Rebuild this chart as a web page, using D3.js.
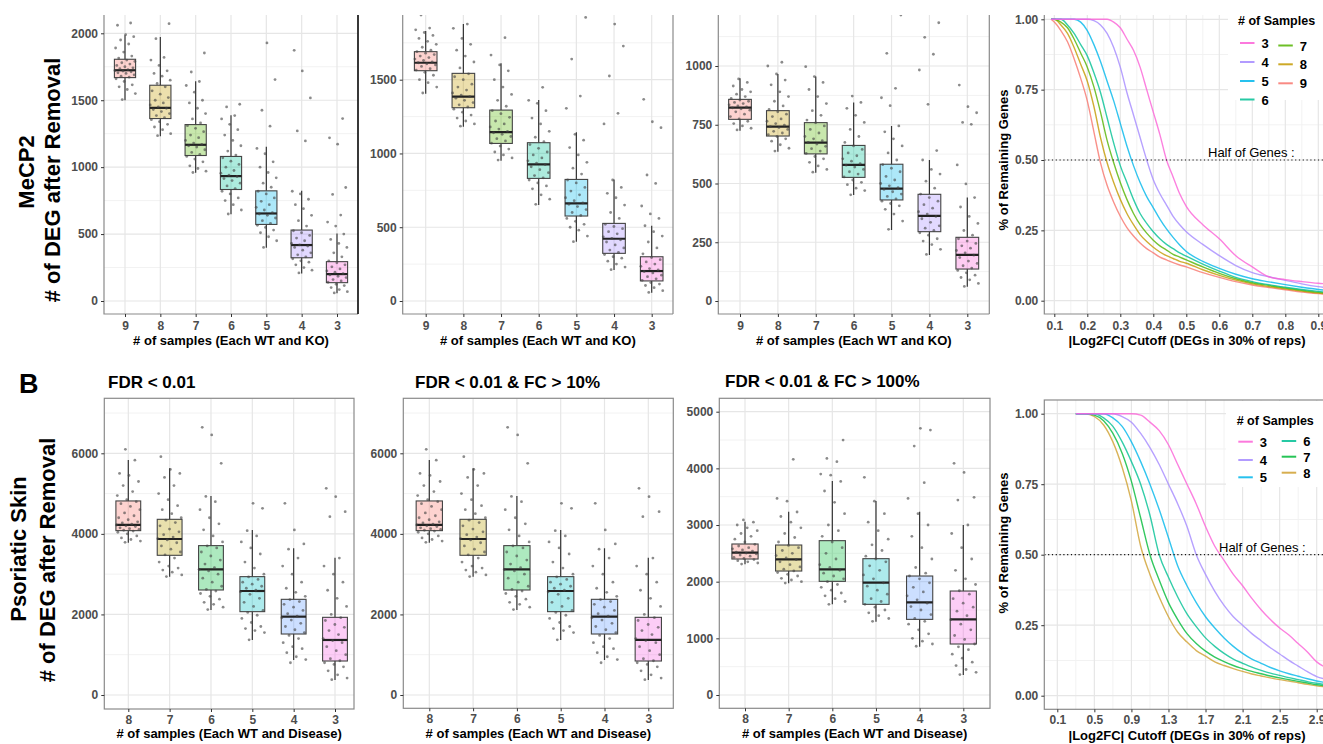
<!DOCTYPE html>
<html>
<head>
<meta charset="utf-8">
<script src="https://cdn.jsdelivr.net/npm/d3@7"></script>
<style>
  body { margin: 0; background: #fff; }
  svg { font-family: "Liberation Sans", Arial, sans-serif; }
</style>
</head>
<body>
<div id="chart"></div>
<script>
// DATA

var topCats = ["9", "8", "7", "6", "5", "4", "3"];
var bottomCats = ["8", "7", "6", "5", "4", "3"];

var topFills = ["#F8766D", "#C49A00", "#53B400", "#00C094", "#00B6EB", "#A58AFF", "#FB61D7"];
var bottomFills = ["#F8766D", "#B79F00", "#00BA38", "#00BFC4", "#619CFF", "#F564E3"];

// box stats: [lower whisker, q1, median, q3, upper whisker]
var t1Stats = [
  [1500, 1669, 1724, 1806, 1985],
  [1231, 1363, 1443, 1612, 1973],
  [958, 1087, 1167, 1318, 1642],
  [649, 833, 933, 1080, 1388],
  [398, 572, 654, 823, 1152],
  [206, 323, 418, 530, 823],
  [57, 137, 201, 294, 505]
];
var t1Points = [
  [1505, 1550, 1580, 1600, 1615, 1640, 1660, 1672, 1680, 1690, 1700, 1705, 1712, 1718, 1722, 1728, 1735, 1742, 1750, 1760, 1770, 1780, 1790, 1800, 1815, 1830, 1860, 1890, 1920, 1950, 1975, 1990, 2060, 2077],
  [1235, 1250, 1280, 1300, 1320, 1340, 1355, 1370, 1385, 1400, 1415, 1430, 1440, 1450, 1465, 1480, 1500, 1520, 1545, 1570, 1600, 1625, 1650, 1680, 1700, 1720, 1760, 1800, 1820, 1960, 2072],
  [960, 970, 990, 1010, 1040, 1060, 1080, 1095, 1110, 1130, 1150, 1160, 1170, 1180, 1200, 1220, 1240, 1265, 1290, 1310, 1330, 1360, 1400, 1440, 1480, 1500, 1560, 1610, 1640, 1711, 1853],
  [650, 680, 720, 750, 770, 800, 820, 840, 860, 880, 900, 915, 930, 940, 955, 975, 1000, 1020, 1045, 1070, 1090, 1120, 1160, 1200, 1240, 1280, 1320, 1360, 1385, 1450, 1470],
  [400, 450, 480, 510, 530, 550, 565, 580, 600, 620, 640, 650, 660, 680, 700, 720, 745, 770, 800, 820, 850, 880, 920, 960, 1000, 1040, 1100, 1140, 1306, 1425, 1654, 1928],
  [210, 230, 250, 270, 290, 300, 315, 330, 345, 360, 380, 400, 410, 420, 430, 450, 470, 490, 510, 525, 560, 600, 640, 690, 720, 760, 800, 820, 1196, 1271, 1517, 1719, 1873],
  [60, 70, 85, 100, 115, 125, 140, 150, 160, 175, 185, 195, 205, 215, 225, 240, 255, 270, 285, 300, 330, 360, 400, 430, 460, 500, 560, 590, 642, 796, 848, 1172, 1219, 1363]
];

var t2Stats = [
  [1405, 1561, 1615, 1690, 1830],
  [1181, 1310, 1385, 1543, 1877],
  [951, 1068, 1145, 1294, 1611],
  [651, 831, 926, 1073, 1362],
  [402, 576, 662, 824, 1143],
  [210, 323, 422, 526, 824],
  [56, 136, 203, 300, 510]
];
var t2Points = [
  [1410, 1450, 1480, 1500, 1530, 1550, 1565, 1575, 1590, 1600, 1608, 1615, 1620, 1630, 1640, 1650, 1660, 1670, 1680, 1690, 1700, 1720, 1740, 1760, 1780, 1800, 1820, 1838, 1850, 1938],
  [1185, 1200, 1220, 1240, 1260, 1280, 1300, 1315, 1330, 1345, 1360, 1375, 1385, 1395, 1410, 1430, 1450, 1470, 1500, 1520, 1540, 1580, 1620, 1660, 1700, 1740, 1780, 1848, 1877],
  [955, 970, 990, 1010, 1030, 1050, 1070, 1085, 1100, 1115, 1130, 1140, 1150, 1165, 1180, 1200, 1220, 1245, 1270, 1290, 1320, 1360, 1400, 1450, 1500, 1560, 1600, 1667, 1785],
  [655, 690, 720, 760, 780, 800, 820, 835, 850, 870, 890, 910, 925, 935, 950, 970, 990, 1010, 1035, 1060, 1080, 1110, 1150, 1200, 1240, 1290, 1340, 1360, 1448],
  [402, 440, 480, 500, 520, 540, 560, 580, 600, 620, 640, 655, 665, 680, 700, 720, 745, 770, 800, 820, 860, 900, 940, 990, 1040, 1090, 1130, 1306, 1389, 1640, 1922],
  [212, 230, 250, 270, 290, 300, 315, 330, 345, 360, 380, 400, 415, 425, 435, 455, 470, 490, 505, 520, 560, 600, 650, 700, 730, 770, 820, 1200, 1272, 1525, 1728, 1877],
  [58, 70, 90, 105, 115, 125, 140, 150, 165, 175, 190, 200, 210, 220, 235, 250, 265, 280, 295, 320, 360, 400, 440, 470, 510, 560, 590, 644, 797, 854, 1175, 1215, 1367]
];

var t3Stats = [
  [725, 773, 823, 858, 948],
  [635, 702, 742, 810, 966],
  [546, 626, 674, 759, 955],
  [451, 526, 579, 662, 845],
  [302, 430, 478, 582, 745],
  [196, 295, 362, 454, 600],
  [61, 136, 196, 271, 440]
];
var t3Points = [
  [728, 735, 745, 755, 765, 775, 785, 795, 805, 812, 818, 822, 826, 830, 835, 840, 845, 850, 855, 862, 870, 880, 890, 900, 915, 930, 945],
  [638, 650, 665, 680, 690, 700, 708, 715, 722, 730, 738, 742, 748, 755, 765, 775, 785, 795, 805, 815, 830, 850, 870, 890, 920, 940, 966, 1000, 1016],
  [548, 560, 575, 590, 605, 615, 628, 638, 648, 658, 668, 675, 682, 690, 700, 715, 730, 745, 758, 770, 790, 810, 840, 870, 900, 930, 955, 997],
  [452, 470, 480, 495, 505, 515, 528, 540, 550, 560, 570, 578, 585, 595, 605, 618, 630, 645, 660, 675, 700, 730, 760, 790, 820, 845, 872],
  [305, 340, 370, 390, 405, 415, 425, 435, 445, 455, 465, 475, 482, 490, 500, 515, 530, 550, 565, 580, 600, 630, 660, 690, 720, 745, 831, 865, 905, 1054, 1217],
  [198, 220, 240, 255, 265, 280, 290, 300, 310, 320, 335, 350, 360, 370, 380, 395, 410, 425, 440, 455, 480, 510, 540, 560, 600, 640, 837, 983, 1050, 1122, 1184],
  [62, 75, 90, 100, 110, 120, 130, 140, 150, 160, 170, 185, 195, 205, 215, 225, 235, 245, 255, 265, 280, 300, 330, 360, 400, 440, 498, 579, 752, 760, 801, 827, 919]
];

// FDR < 0.01 (the FC > 10% panel reads the same)
var b1Stats = [
  [3782, 4080, 4221, 4817, 5835],
  [2938, 3468, 3873, 4361, 5628],
  [2110, 2607, 3120, 3708, 4941],
  [1366, 2069, 2582, 2938, 4097],
  [869, 1514, 1945, 2375, 3641],
  [372, 844, 1366, 1928, 3410]
];
var b1Points = [
  [3790, 3820, 3860, 3900, 3950, 4000, 4040, 4070, 4090, 4110, 4130, 4150, 4180, 4200, 4220, 4240, 4270, 4300, 4350, 4400, 4450, 4520, 4600, 4680, 4750, 4800, 4850, 4950, 5050, 5200, 5300, 5450, 5500, 5830, 6099],
  [2940, 2980, 3050, 3100, 3150, 3200, 3300, 3400, 3480, 3550, 3620, 3700, 3780, 3850, 3880, 3920, 3980, 4050, 4120, 4200, 4280, 4340, 4400, 4500, 4600, 4700, 4850, 5000, 5200, 5400, 5500, 5600, 5917],
  [2120, 2180, 2250, 2300, 2380, 2450, 2520, 2580, 2620, 2700, 2800, 2900, 3000, 3080, 3120, 3160, 3250, 3350, 3450, 3550, 3650, 3700, 3800, 3950, 4100, 4250, 4400, 4600, 4800, 4930, 5752, 6455, 6646],
  [1370, 1550, 1600, 1650, 1700, 1800, 1900, 1980, 2050, 2100, 2200, 2300, 2400, 2500, 2560, 2600, 2650, 2700, 2750, 2800, 2870, 2930, 3000, 3150, 3300, 3500, 3650, 3800, 3950, 4080, 4635, 4759],
  [800, 880, 950, 1050, 1150, 1200, 1300, 1400, 1480, 1550, 1620, 1700, 1780, 1860, 1920, 1960, 2020, 2100, 2180, 2250, 2320, 2370, 2450, 2550, 2650, 2800, 3000, 3200, 3400, 3620, 3750, 4097, 4759],
  [380, 420, 500, 600, 700, 760, 800, 850, 900, 1000, 1100, 1200, 1300, 1350, 1400, 1500, 1600, 1680, 1750, 1850, 1920, 2000, 2200, 2400, 2600, 2800, 3000, 3200, 3400, 4428, 4552, 4924, 5131]
];

var b3Stats = [
  [2306, 2400, 2512, 2665, 3059],
  [1971, 2188, 2394, 2647, 3235],
  [1600, 2006, 2218, 2724, 3776],
  [1294, 1600, 1982, 2406, 3424],
  [853, 1335, 1635, 2100, 3235],
  [353, 900, 1335, 1835, 3000]
];
var b3Points = [
  [2310, 2330, 2350, 2370, 2390, 2410, 2430, 2450, 2470, 2490, 2505, 2520, 2540, 2560, 2580, 2600, 2630, 2660, 2700, 2750, 2800, 2850, 2900, 2950, 3000, 3050, 3090],
  [1975, 2000, 2030, 2060, 2100, 2130, 2160, 2190, 2220, 2260, 2300, 2350, 2390, 2420, 2460, 2500, 2550, 2600, 2640, 2700, 2780, 2850, 2950, 3050, 3150, 3230, 3420, 3470, 4159],
  [1600, 1650, 1700, 1750, 1800, 1850, 1900, 1950, 2000, 2050, 2100, 2150, 2200, 2250, 2300, 2400, 2500, 2600, 2700, 2800, 2900, 3000, 3200, 3400, 3600, 3770, 3880, 3900, 4118, 4176, 4500],
  [1300, 1350, 1400, 1450, 1500, 1550, 1600, 1650, 1700, 1780, 1850, 1920, 1980, 2050, 2120, 2200, 2280, 2350, 2400, 2450, 2550, 2650, 2750, 2900, 3050, 3200, 3420, 3841],
  [860, 900, 950, 1000, 1080, 1150, 1250, 1300, 1350, 1420, 1500, 1560, 1620, 1680, 1750, 1820, 1900, 1980, 2050, 2100, 2150, 2250, 2400, 2600, 2800, 3000, 3200, 3470, 3747, 4394, 4676, 4706],
  [360, 400, 450, 520, 580, 650, 720, 800, 850, 900, 980, 1050, 1150, 1250, 1330, 1400, 1480, 1550, 1620, 1700, 1780, 1840, 1950, 2050, 2200, 2400, 2600, 2850, 3000, 3441, 3488, 3929, 4088]
];

// remaining-gene curves
var topCurveX = [0.09, 0.1, 0.12, 0.14, 0.16, 0.18, 0.2, 0.22, 0.24, 0.26, 0.28, 0.3, 0.32, 0.34, 0.36, 0.38, 0.4, 0.42, 0.44, 0.46, 0.48, 0.5, 0.55, 0.6, 0.65, 0.7, 0.75, 0.8, 0.85, 0.9, 0.95, 1.0];
var top3 = [1, 1, 1, 1, 1, 1, 1, 1, 1, 1, 0.99, 0.97, 0.93, 0.89, 0.83, 0.75, 0.67, 0.59, 0.5, 0.44, 0.38, 0.335, 0.27, 0.22, 0.16, 0.12, 0.085, 0.075, 0.068, 0.062, 0.058, 0.052];
var top4 = [1, 1, 1, 1, 1, 1, 1, 0.995, 0.98, 0.95, 0.9, 0.83, 0.74, 0.66, 0.58, 0.5, 0.43, 0.38, 0.34, 0.3, 0.27, 0.245, 0.2, 0.16, 0.125, 0.1, 0.085, 0.072, 0.06, 0.05, 0.043, 0.037];
var top5 = [1, 1, 1, 1, 1, 0.99, 0.96, 0.91, 0.85, 0.78, 0.71, 0.63, 0.55, 0.48, 0.42, 0.37, 0.33, 0.29, 0.255, 0.225, 0.198, 0.175, 0.14, 0.115, 0.094, 0.078, 0.067, 0.057, 0.048, 0.04, 0.034, 0.028];
var top6 = [1, 1, 1, 0.98, 0.95, 0.91, 0.87, 0.81, 0.74, 0.65, 0.56, 0.48, 0.42, 0.36, 0.31, 0.275, 0.245, 0.22, 0.2, 0.185, 0.17, 0.158, 0.13, 0.105, 0.083, 0.068, 0.057, 0.048, 0.04, 0.033, 0.027, 0.022];
var top7 = [1, 1, 0.99, 0.97, 0.93, 0.88, 0.83, 0.76, 0.67, 0.57, 0.49, 0.42, 0.36, 0.31, 0.27, 0.24, 0.215, 0.195, 0.18, 0.165, 0.155, 0.145, 0.12, 0.097, 0.078, 0.064, 0.054, 0.045, 0.037, 0.03, 0.025, 0.02];
var top8 = [1, 1, 0.98, 0.95, 0.9, 0.84, 0.78, 0.69, 0.58, 0.49, 0.42, 0.36, 0.31, 0.27, 0.235, 0.21, 0.19, 0.173, 0.16, 0.15, 0.14, 0.133, 0.11, 0.09, 0.073, 0.06, 0.05, 0.042, 0.034, 0.027, 0.022, 0.018];
var top9 = [1, 0.99, 0.96, 0.92, 0.86, 0.79, 0.71, 0.6, 0.49, 0.41, 0.35, 0.3, 0.26, 0.23, 0.205, 0.185, 0.17, 0.155, 0.145, 0.135, 0.127, 0.12, 0.1, 0.083, 0.068, 0.056, 0.047, 0.039, 0.031, 0.025, 0.02, 0.016];

var botCurveX = [0.3, 0.4, 0.5, 0.6, 0.7, 0.8, 0.9, 1.0, 1.1, 1.2, 1.3, 1.4, 1.5, 1.6, 1.7, 1.8, 1.9, 2.0, 2.1, 2.2, 2.3, 2.4, 2.5, 2.6, 2.7, 2.8, 2.9, 3.0, 3.1];
var bot3 = [1, 1, 1, 1, 1, 1, 1, 0.995, 0.97, 0.94, 0.89, 0.82, 0.75, 0.68, 0.6, 0.53, 0.48, 0.43, 0.39, 0.345, 0.305, 0.27, 0.24, 0.215, 0.185, 0.155, 0.12, 0.1, 0.09];
var bot4 = [1, 1, 1, 1, 1, 0.99, 0.97, 0.93, 0.88, 0.82, 0.75, 0.68, 0.6, 0.5, 0.43, 0.37, 0.32, 0.28, 0.25, 0.22, 0.195, 0.17, 0.148, 0.125, 0.105, 0.085, 0.068, 0.058, 0.05];
var bot5 = [1, 1, 1, 1, 0.985, 0.955, 0.9, 0.83, 0.75, 0.66, 0.56, 0.46, 0.39, 0.33, 0.28, 0.24, 0.205, 0.175, 0.15, 0.13, 0.115, 0.1, 0.088, 0.078, 0.069, 0.06, 0.052, 0.046, 0.04];
var bot6 = [1, 1, 1, 0.985, 0.955, 0.9, 0.83, 0.75, 0.64, 0.5, 0.42, 0.35, 0.29, 0.245, 0.205, 0.175, 0.15, 0.13, 0.115, 0.101, 0.09, 0.08, 0.072, 0.064, 0.057, 0.05, 0.044, 0.039, 0.035];
var bot7 = [1, 1, 0.995, 0.975, 0.93, 0.86, 0.76, 0.63, 0.5, 0.41, 0.33, 0.27, 0.22, 0.185, 0.158, 0.137, 0.121, 0.107, 0.096, 0.086, 0.078, 0.07, 0.063, 0.057, 0.051, 0.045, 0.039, 0.035, 0.031];
var bot8 = [1, 1, 0.99, 0.96, 0.9, 0.81, 0.69, 0.53, 0.43, 0.35, 0.28, 0.225, 0.19, 0.16, 0.14, 0.12, 0.107, 0.096, 0.086, 0.077, 0.07, 0.063, 0.057, 0.052, 0.046, 0.04, 0.035, 0.031, 0.028];

var curveColors = { "3": "#FB61D7", "4": "#A58AFF", "5": "#00B6EB", "6": "#00C094", "7": "#53B400", "8": "#C49A00", "9": "#F8766D" };
var botCurveColors = { "3": "#FB61D7", "4": "#A58AFF", "5": "#00B6EB", "6": "#00C094", "7": "#00BA38", "8": "#D0A030" };

// tick labels
var t1Ticks = [0, 500, 1000, 1500, 2000];
var t2Ticks = [0, 500, 1000, 1500];
var t3Ticks = [0, 250, 500, 750, 1000];
var b12Ticks = [0, 2000, 4000, 6000];
var b3Ticks = [0, 1000, 2000, 3000, 4000, 5000];
var fracTicks = [0, 0.25, 0.5, 0.75, 1];
var topCutTicks = [0.1, 0.2, 0.3, 0.4, 0.5, 0.6, 0.7, 0.8, 0.9];
var botCutTicks = [0.1, 0.5, 0.9, 1.3, 1.7, 2.1, 2.5, 2.9];

// Start of SVG
var svg = d3.select("#chart").append("svg").attr("width", 1323).attr("height", 744);
var defs = svg.append("defs");

var gridMajor = "#e6e6e6",
  gridMinor = "#f2f2f2",
  tickText = "#4d4d4d";

function midpoints(t) {
  var m = [];
  var step = t[1] - t[0];
  m.push(t[0] - step / 2);
  for (var i = 0; i < t.length; i++) m.push(t[i] + step / 2);
  return m;
}

function styleAxis(sel) {
  sel.attr("font-family", "Liberation Sans, Arial, sans-serif").attr("font-size", 12);
  sel.select(".domain").remove();
  sel.selectAll("line").attr("stroke", "#333");
  sel.selectAll("text").attr("font-weight", "bold").attr("fill", tickText);
}

function drawFrame(p) {
  var f = svg.append("g").attr("fill", "none");
  if (p.box) {
    f.append("rect")
      .attr("x", p.left).attr("y", p.top)
      .attr("width", p.right - p.left).attr("height", p.bottom - p.top)
      .attr("stroke", "#8a8a8a").attr("stroke-width", 1.2);
  } else {
    f.append("path")
      .attr("d", "M" + p.left + "," + p.top + "V" + p.bottom + "H" + p.right)
      .attr("stroke", "#8a8a8a").attr("stroke-width", 1.2);
    if (p.rightLine) {
      f.append("line")
        .attr("x1", p.right).attr("x2", p.right).attr("y1", p.top).attr("y2", p.bottom)
        .attr("stroke", p.rightLine).attr("stroke-width", p.rightLine == "#222" ? 1.8 : 1.2);
    }
  }
}

function clipFor(p) {
  defs.append("clipPath").attr("id", "clip_" + p.id)
    .append("rect")
    .attr("x", p.left).attr("y", p.top)
    .attr("width", p.right - p.left).attr("height", p.bottom - p.top);
  return svg.append("g").attr("clip-path", "url(#clip_" + p.id + ")");
}

function drawBoxPanel(p, cats, stats, pts, fills, ticks) {
  var x = d3.scalePoint().domain(cats).range(p.xRange);
  var y = d3.scaleLinear().domain(p.yDomain).range(p.yRange);
  var bw = x.step() * 0.6;
  var g = clipFor(p);

  g.selectAll(".minor").data(midpoints(ticks)).enter().append("line")
    .attr("x1", p.left).attr("x2", p.right)
    .attr("y1", (d) => y(d)).attr("y2", (d) => y(d))
    .attr("stroke", gridMinor).attr("stroke-width", 1);
  g.selectAll(".majorY").data(ticks).enter().append("line")
    .attr("x1", p.left).attr("x2", p.right)
    .attr("y1", (d) => y(d)).attr("y2", (d) => y(d))
    .attr("stroke", gridMajor).attr("stroke-width", 1.2);
  g.selectAll(".majorX").data(cats).enter().append("line")
    .attr("x1", (d) => x(d)).attr("x2", (d) => x(d))
    .attr("y1", p.top).attr("y2", p.bottom)
    .attr("stroke", gridMajor).attr("stroke-width", 1.2);

  var box = g.selectAll(".box").data(cats).enter().append("g");
  box.append("line")
    .attr("x1", (d) => x(d)).attr("x2", (d) => x(d))
    .attr("y1", (d, i) => y(stats[i][0])).attr("y2", (d, i) => y(stats[i][1]))
    .attr("stroke", "#333").attr("stroke-width", 1.2);
  box.append("line")
    .attr("x1", (d) => x(d)).attr("x2", (d) => x(d))
    .attr("y1", (d, i) => y(stats[i][3])).attr("y2", (d, i) => y(stats[i][4]))
    .attr("stroke", "#333").attr("stroke-width", 1.2);
  box.append("rect")
    .attr("x", (d) => x(d) - bw / 2).attr("width", bw)
    .attr("y", (d, i) => y(stats[i][3]))
    .attr("height", (d, i) => y(stats[i][1]) - y(stats[i][3]))
    .attr("fill", (d, i) => fills[i]).attr("fill-opacity", 0.32)
    .attr("stroke", "#444").attr("stroke-width", 1.1);
  box.append("line")
    .attr("x1", (d) => x(d) - bw / 2).attr("x2", (d) => x(d) + bw / 2)
    .attr("y1", (d, i) => y(stats[i][2])).attr("y2", (d, i) => y(stats[i][2]))
    .attr("stroke", "#222").attr("stroke-width", 2.2);

  // jittered points
  var flat = [];
  pts.forEach(function (arr, i) {
    arr.forEach(function (v, j) {
      flat.push({ c: cats[i], v: v, j: j });
    });
  });
  g.selectAll(".dot").data(flat).enter().append("circle")
    .attr("cx", (d) => x(d.c) + (((d.j * 0.618034 + 0.37) % 1) - 0.5) * bw)
    .attr("cy", (d) => y(d.v))
    .attr("r", 1.4)
    .attr("fill", "#444")
    .attr("fill-opacity", 0.62);

  drawFrame(p);

  svg.append("g")
    .attr("transform", "translate(" + p.left + ",0)")
    .call(d3.axisLeft(y).tickValues(ticks).tickFormat(d3.format("d")).tickSize(3).tickPadding(3))
    .call(styleAxis);
  svg.append("g")
    .attr("transform", "translate(0," + p.bottom + ")")
    .call(d3.axisBottom(x).tickSize(3).tickPadding(p.xPad))
    .call(styleAxis);

  svg.append("text")
    .attr("x", (p.left + p.right) / 2).attr("y", p.xTitleY)
    .attr("text-anchor", "middle")
    .attr("font-size", 13).attr("font-weight", "bold")
    .text(p.xTitle);
}

function drawCurvePanel(p, xs, series, colors, ticksX, minorX) {
  var x = d3.scaleLinear().domain(p.xDomain).range(p.xRange);
  var y = d3.scaleLinear().domain([0, 1]).range(p.yRange);
  var g = clipFor(p);

  g.selectAll(".minorY").data(midpoints(fracTicks)).enter().append("line")
    .attr("x1", p.left).attr("x2", p.right)
    .attr("y1", (d) => y(d)).attr("y2", (d) => y(d))
    .attr("stroke", gridMinor);
  g.selectAll(".minorX").data(minorX).enter().append("line")
    .attr("x1", (d) => x(d)).attr("x2", (d) => x(d))
    .attr("y1", p.top).attr("y2", p.bottom)
    .attr("stroke", gridMinor);
  g.selectAll(".majorY").data(fracTicks).enter().append("line")
    .attr("x1", p.left).attr("x2", p.right)
    .attr("y1", (d) => y(d)).attr("y2", (d) => y(d))
    .attr("stroke", gridMajor).attr("stroke-width", 1.2);
  g.selectAll(".majorX").data(ticksX).enter().append("line")
    .attr("x1", (d) => x(d)).attr("x2", (d) => x(d))
    .attr("y1", p.top).attr("y2", p.bottom)
    .attr("stroke", gridMajor).attr("stroke-width", 1.2);

  var line = d3.line()
    .x((d, i) => x(xs[i]))
    .y((d) => y(d))
    .curve(d3.curveMonotoneX);

  g.selectAll(".curve").data(series).enter().append("path")
    .attr("d", (d) => line(d.values))
    .attr("fill", "none")
    .attr("stroke", (d) => colors[d.n])
    .attr("stroke-opacity", 0.8)
    .attr("stroke-width", 1.4);

  // half of genes
  g.append("line")
    .attr("x1", p.left).attr("x2", p.right)
    .attr("y1", y(0.5)).attr("y2", y(0.5))
    .attr("stroke", "#111").attr("stroke-width", 1.2)
    .attr("stroke-dasharray", "1.2,2.6");

  // legend
  var lg = p.legend;
  g.append("rect")
    .attr("x", lg.x).attr("y", lg.y)
    .attr("width", 200).attr("height", lg.h)
    .attr("fill", "#fff");
  g.append("text")
    .attr("x", p.halfX).attr("y", y(0.5) - 3)
    .attr("font-size", 13)
    .text("Half of Genes :");

  drawFrame(p);

  svg.append("g")
    .attr("transform", "translate(" + p.left + ",0)")
    .call(d3.axisLeft(y).tickValues(fracTicks).tickFormat(d3.format(".2f")).tickSize(3).tickPadding(3))
    .call(styleAxis);
  svg.append("g")
    .attr("transform", "translate(0," + p.bottom + ")")
    .call(d3.axisBottom(x).tickValues(ticksX).tickFormat(d3.format(".1f")).tickSize(3).tickPadding(p.xPad))
    .call(styleAxis);

  svg.append("text")
    .attr("x", 1187).attr("y", p.xTitleY)
    .attr("text-anchor", "middle")
    .attr("font-size", 13).attr("font-weight", "bold")
    .text("|Log2FC| Cutoff (DEGs in 30% of reps)");

  svg.append("text")
    .attr("x", lg.titleX).attr("y", lg.titleY)
    .attr("font-size", 12.5).attr("font-weight", "bold")
    .text("# of Samples");

  var items = svg.selectAll(".leg_" + p.id).data(lg.items).enter().append("g");
  items.append("line")
    .attr("x1", (d) => d.x).attr("x2", (d) => d.x + 14.5)
    .attr("y1", (d) => d.y).attr("y2", (d) => d.y)
    .attr("stroke", (d) => colors[d.n]).attr("stroke-opacity", 0.85)
    .attr("stroke-width", 2);
  items.append("text")
    .attr("x", (d) => d.x + 21.5).attr("y", (d) => d.y + 5)
    .attr("font-size", 13).attr("font-weight", "bold")
    .text((d) => d.n);
}

// PANELS
var yTop = 15, yBotT = 314;

drawBoxPanel({ id: "t1", left: 104, right: 358, top: yTop, bottom: yBotT, yDomain: [0, 2000], yRange: [301, 33.3],
  xRange: [125, 337], xPad: 4.5, xTitleY: 345, xTitle: "# of samples (Each WT and KO)", rightLine: "#222" },
  topCats, t1Stats, t1Points, topFills, t1Ticks);
drawBoxPanel({ id: "t2", left: 402.7, right: 673, top: yTop, bottom: yBotT, yDomain: [0, 1500], yRange: [301, 79.7],
  xRange: [425.7, 651.7], xPad: 4.5, xTitleY: 345, xTitle: "# of samples (Each WT and KO)", rightLine: "#8a8a8a" },
  topCats, t2Stats, t2Points, topFills, t2Ticks);
drawBoxPanel({ id: "t3", left: 718.3, right: 989.3, top: yTop, bottom: yBotT, yDomain: [0, 1000], yRange: [301, 66],
  xRange: [740, 967.3], xPad: 4.5, xTitleY: 345, xTitle: "# of samples (Each WT and KO)", rightLine: "#8a8a8a" },
  topCats, t3Stats, t3Points, topFills, t3Ticks);

drawBoxPanel({ id: "b1", left: 104.3, right: 354, top: 398.3, bottom: 709, yDomain: [0, 6000], yRange: [695, 453.3],
  xRange: [128.3, 335], xPad: 3.5, xTitleY: 738, xTitle: "# of samples (Each WT and Disease)", box: true },
  bottomCats, b1Stats, b1Points, bottomFills, b12Ticks);
drawBoxPanel({ id: "b2", left: 403.3, right: 673.3, top: 398.3, bottom: 708.3, yDomain: [0, 6000], yRange: [695, 453.3],
  xRange: [429.3, 648.3], xPad: 3.5, xTitleY: 738, xTitle: "# of samples (Each WT and Disease)", box: true },
  bottomCats, b1Stats, b1Points, bottomFills, b12Ticks);
drawBoxPanel({ id: "b3", left: 719.3, right: 990, top: 398.3, bottom: 708.3, yDomain: [0, 5000], yRange: [695, 411.7],
  xRange: [745, 963.3], xPad: 3.5, xTitleY: 738, xTitle: "# of samples (Each WT and Disease)", box: true },
  bottomCats, b3Stats, b3Points, bottomFills, b3Ticks);

var topSeries = [
  { n: "9", values: top9 }, { n: "8", values: top8 }, { n: "7", values: top7 }, { n: "6", values: top6 },
  { n: "5", values: top5 }, { n: "4", values: top4 }, { n: "3", values: top3 }
];
var botSeries = [
  { n: "8", values: bot8 }, { n: "7", values: bot7 }, { n: "6", values: bot6 },
  { n: "5", values: bot5 }, { n: "4", values: bot4 }, { n: "3", values: bot3 }
];

drawCurvePanel({ id: "c1", left: 1044.3, right: 1345, top: yTop, bottom: yBotT, xDomain: [0.1, 0.9], xRange: [1054.3, 1318.3],
  yRange: [300.7, 19.3], xPad: 4.5, xTitleY: 345, halfX: 1208,
  legend: { x: 1228, y: 0, h: 100, titleX: 1238, titleY: 25,
    items: [{ n: "3", x: 1240, y: 43 }, { n: "4", x: 1240, y: 62 }, { n: "5", x: 1240, y: 81 }, { n: "6", x: 1240, y: 99.5 },
      { n: "7", x: 1278.3, y: 45.5 }, { n: "8", x: 1278.3, y: 64.3 }, { n: "9", x: 1278.3, y: 83.3 }] } },
  topCurveX, topSeries, curveColors, topCutTicks, [0.05, 0.15, 0.25, 0.35, 0.45, 0.55, 0.65, 0.75, 0.85, 0.95]);

drawCurvePanel({ id: "c2", left: 1044.3, right: 1345, top: 400, bottom: 709.3, xDomain: [0.1, 2.9], xRange: [1057.3, 1316.7],
  yRange: [695.7, 413.7], xPad: 3.5, xTitleY: 740, halfX: 1219, box: true,
  legend: { x: 1226, y: 401, h: 86, titleX: 1236.7, titleY: 425,
    items: [{ n: "3", x: 1238.3, y: 441.7 }, { n: "4", x: 1238.3, y: 460 }, { n: "5", x: 1238.3, y: 477.3 },
      { n: "6", x: 1281.7, y: 441 }, { n: "7", x: 1281.7, y: 456.7 }, { n: "8", x: 1281.7, y: 472.7 }] } },
  botCurveX, botSeries, botCurveColors, botCutTicks, [-0.1, 0.3, 0.7, 1.1, 1.5, 1.9, 2.3, 2.7, 3.1]);

// Titles and row labels
function rotText(x, y, size, txt) {
  svg.append("text")
    .attr("transform", "translate(" + x + "," + y + ") rotate(-90)")
    .attr("text-anchor", "middle")
    .attr("font-size", size).attr("font-weight", "bold")
    .text(txt);
}
rotText(34, 172, 22, "MeCP2");
rotText(60, 180, 22, "# of DEG after Removal");
rotText(26, 549, 22, "Psoriatic Skin");
rotText(55, 560, 22, "# of DEG after Removal");
rotText(1008, 160, 13, "% of Remaining Genes");
rotText(1008, 543, 13, "% of Remaining Genes");

svg.append("text").attr("x", 19).attr("y", 393)
  .attr("font-size", 27).attr("font-weight", "bold").text("B");

var panelTitles = [
  { t: "FDR < 0.01", x: 108, y: 388 },
  { t: "FDR < 0.01 & FC > 10%", x: 415, y: 388 },
  { t: "FDR < 0.01 & FC > 100%", x: 725, y: 387 }
];
svg.selectAll(".ptitle").data(panelTitles).enter().append("text")
  .attr("x", (d) => d.x).attr("y", (d) => d.y)
  .attr("font-size", 17).attr("font-weight", "bold")
  .text((d) => d.t);
</script>
</body>
</html>
